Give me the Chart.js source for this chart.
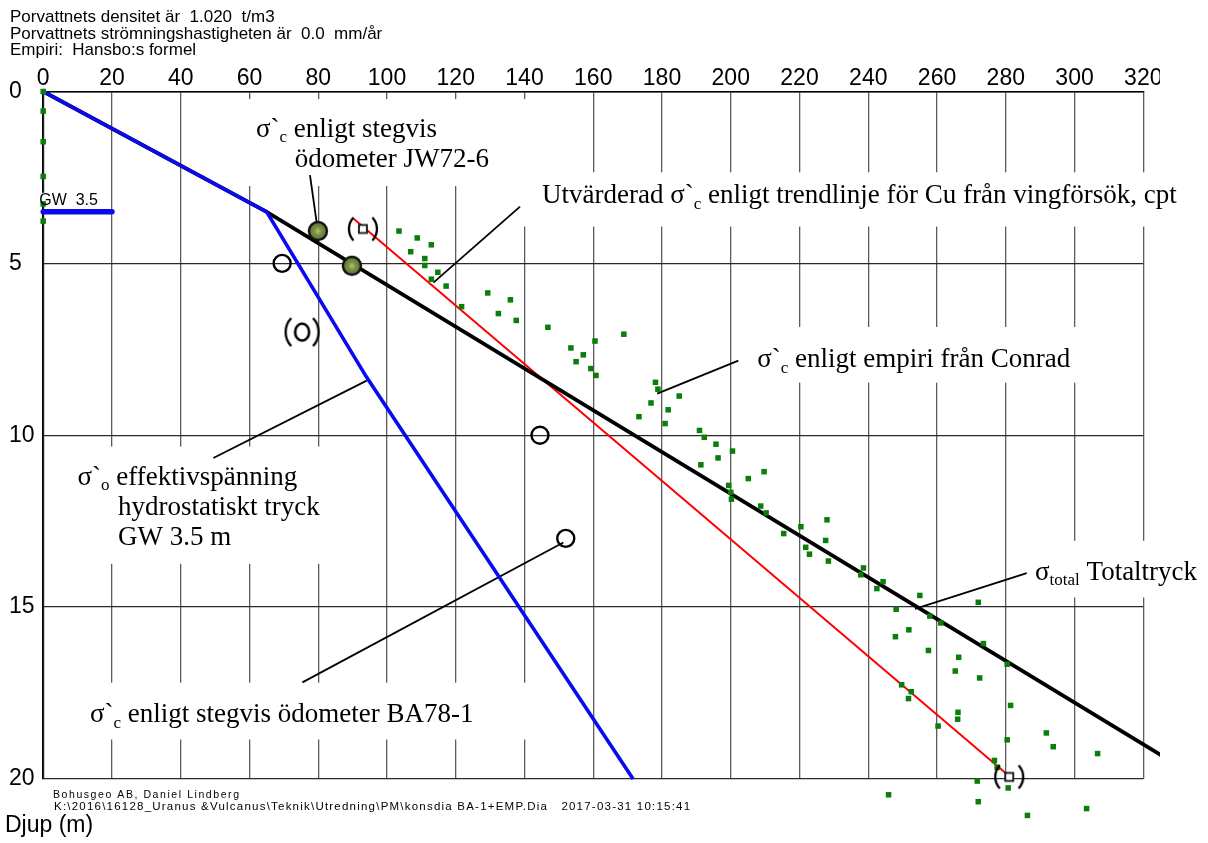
<!DOCTYPE html>
<html>
<head>
<meta charset="utf-8">
<script src="https://cdn.jsdelivr.net/npm/chart.js@4.4.1/dist/chart.umd.min.js"></script>
<style>
  html, body { margin: 0; padding: 0; background: #fff; }
  canvas { display: block; }
</style>
</head>
<body>
<canvas id="konsdia" width="1208" height="843"></canvas>
<script>
// Axis ticks: stress (kPa) along the top, depth (m) down the left side
const stressTicks = [0, 20, 40, 60, 80, 100, 120, 140, 160, 180, 200, 220, 240, 260, 280, 300, 320];
const depthTicks = [0, 5, 10, 15, 20];

// σ'o effective stress, hydrostatic pore pressure, GW 3.5 m
const effDepth = [0, 3.5, 8.3, 20];
const effStress = [0, 65, 94, 171.6];

// σtotal total stress
const totDepth = [0, 3.5, 20];
const totStress = [0, 65, 336.6];

// groundwater level marker
const gwDepth = [3.5, 3.5];
const gwStress = [0, 20];

// evaluated σ'c, trend line from vane tests / CPT
const trendDepth = [3.7, 20];
const trendStress = [90.3, 282];
const trendMarkDepth = [4.0, 19.94];
const trendMarkStress = [93, 281];

// σ'c from step oedometer JW72-6
const jwDepth = [4.06, 5.07];
const jwStress = [79.9, 89.8];

// σ'c from step oedometer BA78-1
const baDepth = [5.0, 10.0, 13.0];
const baStress = [69.5, 144.5, 152];
const baBracketDepth = [7.0];
const baBracketStress = [75.3];

// σ'c empirical (Conrad) from CPT
const empDepth = [0, 0.57, 1.46, 2.47, 3.27, 3.77,
  4.06, 4.26, 4.46, 4.66, 4.86, 5.06, 5.26, 5.46, 5.66, 5.86,
  6.06, 6.26, 6.46, 6.66, 6.86, 7.06, 7.26, 7.46, 7.66, 7.86,
  8.06, 8.26, 8.46, 8.66, 8.86, 9.06, 9.26, 9.46, 9.66, 9.86,
  10.06, 10.26, 10.46, 10.66, 10.86, 11.06, 11.26, 11.46, 11.66, 11.86,
  12.06, 12.26, 12.46, 12.66, 12.86, 13.06, 13.26, 13.46, 13.66, 13.86,
  14.06, 14.26, 14.46, 14.66, 14.86, 15.06, 15.26, 15.46, 15.66, 15.86,
  16.06, 16.26, 16.46, 16.66, 16.86, 17.06, 17.26, 17.46, 17.66, 17.86,
  18.06, 18.26, 18.46, 18.66, 18.86, 19.06, 19.26, 19.46, 19.66,
  20.06, 20.26, 20.46, 20.66, 20.86, 21.06];
const empStress = [0, 0, 0, 0, 0, 0,
  103.5, 108.8, 112.9, 106.9, 111.0, 111.0, 114.8, 112.9, 117.2, 129.3,
  135.9, 121.7, 132.4, 137.6, 146.8, 168.9, 160.5, 153.5, 157.1, 155.0,
  159.3, 160.8, 178.1, 178.8, 185.0, 176.8, 181.8, 173.3, 180.9, 190.9,
  192.3, 195.7, 200.5, 196.3, 191.3, 209.7, 205.1, 199.4, 200.0, 200.2,
  208.7, 210.3, 228.0, 220.4, 215.4, 227.6, 221.8, 222.9, 228.4, 238.6,
  237.8, 244.3, 242.5, 255.0, 272.0, 248.1, 257.9, 261.1, 251.8, 247.9,
  273.5, 257.5, 266.3, 280.4, 265.3, 272.4, 249.7, 252.5, 251.7, 281.4,
  266.1, 266.0, 260.3, 291.8, 280.4, 293.8, 306.7, 276.7, 277.5,
  271.7, 280.7, 245.9, 272.0, 303.5, 286.3];

const headerLines = [
  'Porvattnets densitet är  1.020  t/m3',
  'Porvattnets strömningshastigheten är  0.0  mm/år',
  'Empiri:  Hansbo:s formel'
];
const footerLines = [
  'Bohusgeo AB, Daniel Lindberg',
  'K:\\2016\\16128_Uranus &Vulcanus\\Teknik\\Utredning\\PM\\konsdia BA-1+EMP.Dia   2017-03-31 10:15:41'
];
const depthTitle = 'Djup (m)';
const gwLabel = 'GW  3.5';

const sans = "'Liberation Sans', Arial, Helvetica, sans-serif";
const narrow = "'Liberation Sans Narrow', 'Arial Narrow', 'Liberation Sans', Arial, sans-serif";
const serif = "'Liberation Serif', 'Times New Roman', Times, serif";

const pts = (xs, ys) => xs.map((x, i) => ({ x, y: ys[i] }));

// Point glyphs: bracketed square / bracketed circle, shaded JW circle
function bracketGlyph(kind) {
  const w = kind === 'square' ? 28 : 33;
  const h = kind === 'square' ? 11.5 : 14;
  const c = document.createElement('canvas');
  c.width = w + 6; c.height = Math.ceil(2 * h + 6);
  const g = c.getContext('2d');
  const cx = c.width / 2, cy = c.height / 2;
  const R = h * 1.45;
  const a = Math.asin(h / R);
  g.strokeStyle = '#000';
  g.lineWidth = 2.3;
  g.beginPath(); g.arc(cx - w / 2 + R, cy, R, Math.PI - a, Math.PI + a); g.stroke();
  g.beginPath(); g.arc(cx + w / 2 - R, cy, R, -a, a); g.stroke();
  if (kind === 'square') {
    g.fillStyle = '#fff';
    g.fillRect(cx - 4, cy - 4, 8, 8);
    g.lineWidth = 1.8;
    g.strokeStyle = '#111';
    g.strokeRect(cx - 4, cy - 4, 8, 8);
  } else {
    g.lineWidth = 2.6;
    g.beginPath(); g.ellipse(cx, cy, 7, 8.5, 0, 0, Math.PI * 2); g.stroke();
  }
  return c;
}
function jwGlyph() {
  const c = document.createElement('canvas');
  c.width = 24; c.height = 24;
  const g = c.getContext('2d');
  const grad = g.createRadialGradient(12, 12, 1, 12, 12, 9.5);
  grad.addColorStop(0, '#a4b86a');
  grad.addColorStop(0.35, '#7a8e44');
  grad.addColorStop(1, '#5e7030');
  g.fillStyle = grad;
  g.beginPath(); g.arc(12, 12, 9, 0, Math.PI * 2); g.fill();
  g.lineWidth = 2.4; g.strokeStyle = '#111';
  g.stroke();
  return c;
}

// Text labels with leader lines (positions in axis units)
const notes = [
  { box: [50, 143, 0.22, 2.75],
    text: [{ x: 61.9, y: 1.31, parts: [['σ`'], ['c', 1], [' enligt stegvis']] },
           { x: 73.2, y: 2.19, parts: [['ödometer JW72-6']] }],
    leader: [77.6, 2.43, 79.9, 4.06] },
  { box: [137.3, 332, 2.35, 3.93],
    text: [{ x: 145.1, y: 3.25, parts: [['Utvärderad σ`'], ['c', 1], [' enligt trendlinje för Cu från vingförsök, cpt']] }],
    leader: [138.7, 3.35, 113.5, 5.56] },
  { box: [203, 304.5, 6.85, 8.47],
    text: [{ x: 207.7, y: 8.02, parts: [['σ`'], ['c', 1], [' enligt empiri från Conrad']] }],
    leader: [202.2, 7.83, 178.6, 8.79] },
  { box: [284, 340, 13.07, 14.72],
    text: [{ x: 288.5, y: 14.2, parts: [['σ'], ['total', 1], [' Totaltryck']] }],
    leader: [286.1, 14.01, 253.6, 15.05] },
  { box: [3.5, 89, 10.33, 13.74],
    text: [{ x: 9.98, y: 11.44, parts: [['σ`'], ['o', 1], [' effektivspänning']] },
           { x: 21.73, y: 12.31, parts: [['hydrostatiskt tryck']] },
           { x: 21.73, y: 13.18, parts: [['GW 3.5 m']] }],
    leader: [49.5, 10.66, 94.1, 8.41] },
  { box: [3.5, 146, 17.2, 18.85],
    text: [{ x: 13.6, y: 18.35, parts: [['σ`'], ['c', 1], [' enligt stegvis ödometer BA78-1']] }],
    leader: [75.4, 17.19, 151.3, 13.12] }
];

function drawParts(ctx, parts, x, y, size) {
  let cx = x;
  for (const [t, sub] of parts) {
    const fs = sub ? Math.round(size * 0.62) : size;
    ctx.font = `${fs}px ${serif}`;
    ctx.fillText(t, cx, y + (sub ? size * 0.2 : 0));
    cx += ctx.measureText(t).width;
  }
}

function fitText(ctx, text, x, y, font, width) {
  ctx.font = font;
  ctx.letterSpacing = '0px';
  const w = ctx.measureText(text).width;
  const sp = (width - w) / Math.max(1, text.length - 1);
  ctx.letterSpacing = sp.toFixed(2) + 'px';
  ctx.fillText(text, x, y);
  ctx.letterSpacing = '0px';
}

const decor = {
  id: 'decor',
  beforeDraw(chart) {
    const ctx = chart.ctx;
    ctx.save();
    ctx.beginPath();
    ctx.rect(0, 0, 1160, chart.height);
    ctx.clip();
  },
  beforeDatasetsDraw(chart) {
    const { ctx, scales: { x, y } } = chart;
    ctx.save();
    ctx.fillStyle = '#fff';
    for (const n of notes) {
      const [x0, x1, y0, y1] = n.box;
      const px0 = x.getPixelForValue(x0), px1 = x.getPixelForValue(x1);
      const py0 = y.getPixelForValue(y0), py1 = y.getPixelForValue(y1);
      ctx.fillRect(px0, py0, px1 - px0, py1 - py0);
    }
    // groundwater label backing
    ctx.font = `16px ${sans}`;
    const gx = x.getPixelForValue(0) - 4, gy = y.getPixelForValue(3.5) - 7;
    ctx.fillRect(gx - 1, gy - 12, ctx.measureText(gwLabel).width + 3, 13);
    ctx.strokeStyle = '#000';
    ctx.lineWidth = 1.8;
    for (const n of notes) {
      const [a, b, c, d] = n.leader;
      ctx.beginPath();
      ctx.moveTo(x.getPixelForValue(a), y.getPixelForValue(b));
      ctx.lineTo(x.getPixelForValue(c), y.getPixelForValue(d));
      ctx.stroke();
    }
    ctx.restore();
  },
  // CPT points continue below the 20 m line: let them draw outside the plot frame
  beforeDatasetDraw(chart, args) {
    const ds = chart.data.datasets[args.index];
    if (ds.drawOutside) {
      chart.$plotArea = chart.chartArea;
      chart.chartArea = { left: 0, top: 0, right: chart.width, bottom: chart.height,
                          width: chart.width, height: chart.height };
    }
  },
  afterDatasetDraw(chart) {
    if (chart.$plotArea) {
      chart.chartArea = chart.$plotArea;
      chart.$plotArea = null;
    }
  },
  afterDraw(chart) {
    const { ctx, scales: { x, y } } = chart;
    ctx.restore();
    ctx.save();
    ctx.fillStyle = '#000';
    ctx.textBaseline = 'alphabetic';
    ctx.textAlign = 'left';
    for (const n of notes) {
      for (const t of n.text) {
        drawParts(ctx, t.parts, x.getPixelForValue(t.x), y.getPixelForValue(t.y), 27);
      }
    }
    ctx.font = `16px ${sans}`;
    ctx.fillText(gwLabel, x.getPixelForValue(0) - 4, y.getPixelForValue(3.5) - 7);
    ctx.font = `17px ${sans}`;
    headerLines.forEach((s, i) => ctx.fillText(s, 10, 21.7 + i * 16.8));
    fitText(ctx, footerLines[0], 53, 797.5, `10.5px ${sans}`, 186);
    fitText(ctx, footerLines[1], 54, 810, `11.5px ${sans}`, 636);
    ctx.font = `23px ${sans}`;
    ctx.fillText(depthTitle, 5, 832);
    ctx.restore();
  }
};

const tickFont = (c) => ({
  family: c.tick && c.tick.value >= 100 ? narrow : sans,
  size: 23
});

new Chart(document.getElementById('konsdia'), {
  type: 'scatter',
  data: {
    datasets: [
      { label: 'trend markers', data: pts(trendMarkStress, trendMarkDepth),
        pointStyle: bracketGlyph('square'), pointRadius: 10, clip: false, drawOutside: true },
      { label: 'BA78-1 bracket', data: pts(baBracketStress, baBracketDepth),
        pointStyle: bracketGlyph('circle'), pointRadius: 10, clip: false },
      { label: 'JW72-6', data: pts(jwStress, jwDepth),
        pointStyle: jwGlyph(), pointRadius: 10, clip: false },
      { label: 'BA78-1', data: pts(baStress, baDepth),
        pointStyle: 'circle', pointRadius: 8.5, borderWidth: 2.4,
        borderColor: '#000', backgroundColor: 'rgba(0,0,0,0)', clip: false },
      { label: 'empiri Conrad', data: pts(empStress, empDepth),
        pointStyle: 'rect', pointRadius: 3.9, borderWidth: 0,
        backgroundColor: '#0a7d0a', borderColor: '#0a7d0a', clip: false, drawOutside: true },
      { label: 'effektivspänning', data: pts(effStress, effDepth), showLine: true,
        borderColor: '#0a0aee', borderWidth: 3.6, pointRadius: 0, clip: false },
      { label: 'GW', data: pts(gwStress, gwDepth), showLine: true,
        borderColor: '#0a0aee', borderWidth: 5.5, borderCapStyle: 'round', pointRadius: 0, clip: false },
      { label: 'Totaltryck', data: pts(totStress, totDepth), showLine: true,
        borderColor: '#000', borderWidth: 3.8, pointRadius: 0, clip: false },
      { label: 'trendlinje', data: pts(trendStress, trendDepth), showLine: true,
        borderColor: '#ff0000', borderWidth: 2, pointRadius: 0, clip: false }
    ]
  },
  options: {
    responsive: false,
    animation: false,
    events: [],
    layout: { padding: { left: 9, top: 58, right: 64.7, bottom: 64 } },
    plugins: { legend: { display: false }, tooltip: { enabled: false } },
    scales: {
      x: {
        type: 'linear', position: 'top', min: 0, max: 320,
        afterBuildTicks: (s) => { s.ticks = stressTicks.map((v) => ({ value: v })); },
        afterFit: (s) => { s.height = 33.5; },
        grid: { color: '#5c5c5c', lineWidth: 1.3, drawTicks: false },
        border: { color: '#000', width: 1.6 },
        ticks: { color: '#000', padding: -1, maxRotation: 0, autoSkip: false, font: tickFont }
      },
      y: {
        type: 'linear', reverse: true, min: 0, max: 20,
        afterBuildTicks: (s) => { s.ticks = depthTicks.map((v) => ({ value: v })); },
        afterFit: (s) => { s.width = 34.2; },
        grid: { color: '#2a2a2a', lineWidth: 1.3, drawTicks: false },
        border: { color: '#000', width: 1.6 },
        ticks: { color: '#000', padding: 0, crossAlign: 'far', autoSkip: false, font: { family: sans, size: 23 } }
      }
    }
  },
  plugins: [decor]
});
</script>
</body>
</html>
